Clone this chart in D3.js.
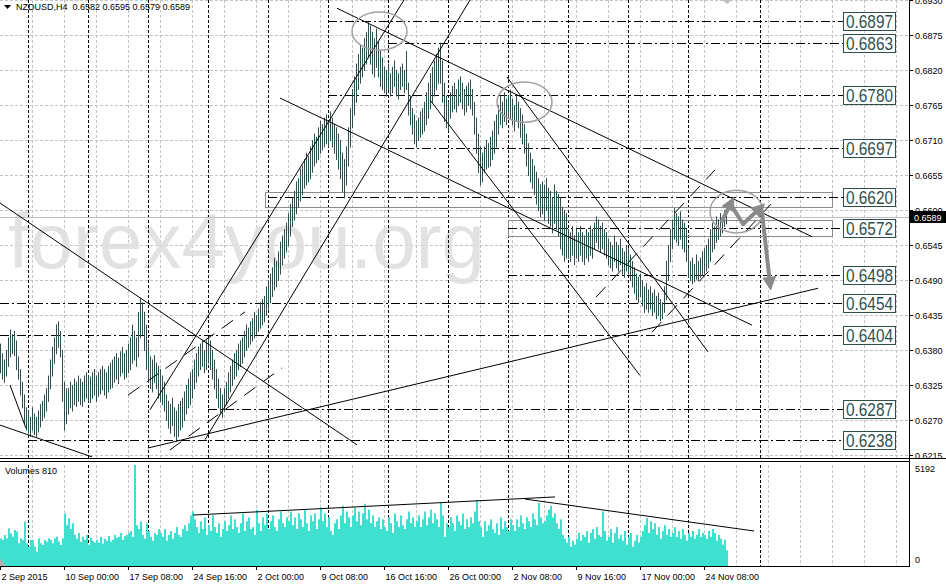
<!DOCTYPE html>
<html><head><meta charset="utf-8">
<script src="https://cdn.jsdelivr.net/npm/d3@7"></script>
<style>body{margin:0;background:#fff;overflow:hidden}svg{display:block;font-family:"Liberation Sans",Arial,sans-serif}</style>
</head><body><svg id="c" width="946" height="585"></svg>
<script>
// ---------- DATA ----------
const chartTitle = "NZDUSD,H4  0.6582 0.6595 0.6579 0.6589";
const volumeTitle = "Volumes 810";
const lastPrice = 0.6589;
const watermarkText = "forex4you.org";
// H4 bars: [high, low] in pips (x 1e-4)
const barRanges = [
[6390,6345],[6375,6335],[6365,6330],[6380,6340],[6400,6355],[6412,6370],[6405,6375],[6410,6372],[6395,6350],[6370,6335],[6350,6310],[6330,6290],[6310,6265],[6290,6255],[6285,6250],[6275,6245],
[6290,6255],[6280,6248],[6275,6245],[6285,6252],[6295,6260],[6300,6270],[6310,6275],[6320,6285],
[6340,6300],[6365,6320],[6385,6340],[6400,6360],[6420,6375],[6425,6385],[6410,6370],
[6380,6300],[6330,6255],[6320,6265],
[6320,6280],[6330,6290],[6325,6285],[6335,6295],[6330,6292],[6340,6300],[6335,6295],[6330,6292],[6340,6300],[6345,6305],[6340,6300],[6338,6298],
[6345,6305],[6350,6310],[6340,6300],[6345,6308],[6350,6312],[6355,6318],[6350,6310],[6345,6305],[6355,6315],[6360,6320],
[6365,6322],[6370,6330],[6375,6335],[6368,6328],[6378,6340],[6385,6345],[6375,6335],[6380,6338],[6390,6345],
[6400,6350],[6420,6360],[6410,6365],[6400,6355],[6440,6370],[6462,6400],[6455,6405],
[6440,6380],[6420,6350],[6390,6330],[6370,6320],
[6365,6315],[6372,6330],[6360,6320],[6355,6305],[6350,6300],[6340,6295],[6330,6285],
[6310,6270],[6300,6258],[6295,6250],[6305,6262],[6290,6245],[6285,6238],[6295,6245],[6300,6255],[6305,6260],
[6315,6270],[6325,6280],[6335,6290],[6345,6295],[6350,6305],
[6365,6320],[6375,6330],[6385,6340],[6390,6350],[6395,6355],[6380,6345],[6395,6350],[6400,6360],
[6395,6350],[6380,6335],[6365,6320],[6350,6305],[6335,6290],[6320,6280],[6310,6275],
[6320,6285],[6330,6295],[6345,6305],[6355,6315],[6365,6325],[6375,6335],[6380,6340],[6390,6350],[6395,6355],
[6400,6360],[6410,6370],[6420,6380],[6415,6385],[6425,6390],[6430,6395],[6440,6400],[6435,6405],[6445,6410],[6455,6415],[6460,6420],[6465,6425],
[6480,6435],[6490,6445],[6500,6455],[6510,6465],[6525,6475],[6520,6480],[6535,6490],[6550,6500],[6560,6515],[6570,6525],[6580,6535],[6595,6545],[6610,6560],
[6620,6575],[6630,6585],[6645,6595],[6650,6605],[6665,6615],[6670,6625],[6680,6635],[6690,6640],[6685,6645],[6700,6650],
[6710,6660],[6720,6670],[6715,6675],[6730,6680],[6740,6690],[6735,6695],[6745,6700],[6750,6705],[6740,6700],[6755,6710],[6745,6700],[6735,6690],[6730,6680],[6720,6665],[6710,6650],[6690,6630],[6680,6620],
[6700,6640],[6730,6670],[6760,6700],[6790,6730],[6810,6750],
[6830,6770],[6845,6790],[6860,6800],[6855,6810],[6870,6820],[6880,6830],
[6895,6840],[6890,6830],[6880,6815],[6870,6810],[6885,6825],
[6865,6810],[6850,6795],[6840,6790],
[6825,6785],[6820,6780],[6830,6790],[6815,6780],[6825,6785],[6835,6795],[6820,6780],[6815,6775],[6825,6790],[6830,6795],[6820,6785],[6850,6790],
[6800,6750],[6780,6735],[6760,6720],[6750,6705],[6740,6700],[6745,6710],[6755,6715],[6760,6720],[6770,6725],
[6785,6735],[6800,6745],[6815,6760],[6825,6770],[6835,6780],[6845,6790],[6855,6800],[6863,6800],
[6835,6770],[6800,6740],[6780,6730],[6770,6725],
[6785,6745],[6795,6755],[6800,6760],[6790,6755],[6805,6765],[6810,6770],[6800,6760],[6790,6750],[6795,6755],[6800,6765],[6805,6760],[6790,6750],
[6770,6720],[6745,6690],[6720,6660],[6700,6640],[6690,6645],
[6700,6660],[6710,6665],[6705,6668],[6715,6670],[6725,6680],[6740,6690],[6750,6700],
[6765,6720],[6780,6735],[6770,6730],[6785,6740],[6775,6735],[6780,6745],[6789,6745],[6775,6735],[6765,6725],[6780,6740],[6770,6730],[6760,6715],[6750,6705],
[6735,6690],[6720,6670],[6705,6655],[6690,6645],[6680,6635],[6670,6625],[6660,6610],[6650,6600],[6640,6590],
[6645,6595],[6640,6585],[6650,6600],[6635,6580],[6630,6575],[6620,6565],[6640,6580],[6630,6570],[6625,6560],[6620,6540],[6605,6530],[6600,6520],[6595,6525],
[6570,6525],[6565,6520],[6575,6530],[6560,6515],[6570,6525],[6565,6520],[6575,6530],[6565,6520],[6560,6515],[6570,6525],[6565,6520],[6575,6530],[6570,6525],
[6580,6540],[6590,6550],[6585,6540],[6575,6535],[6580,6540],[6570,6530],[6565,6525],
[6555,6515],[6550,6510],[6545,6505],[6560,6520],[6550,6510],[6545,6505],[6555,6515],[6540,6500],[6535,6495],[6545,6505],[6540,6500],[6530,6490],[6520,6480],
[6510,6470],[6500,6460],[6495,6455],[6500,6465],[6490,6450],[6480,6440],[6485,6445],[6475,6440],[6480,6445],[6470,6435],[6475,6440],[6465,6430],[6470,6435],[6460,6427],[6455,6430],
[6480,6440],[6520,6460],[6545,6490],
[6570,6520],[6585,6540],[6603,6555],[6595,6550],[6590,6545],[6598,6555],[6585,6540],[6580,6535],[6570,6520],
[6540,6495],[6520,6490],[6525,6485],[6515,6488],[6530,6492],[6520,6490],[6525,6495],[6535,6498],[6540,6500],[6545,6505],
[6555,6510],[6570,6520],[6580,6535],[6575,6540],[6590,6550],[6585,6555],[6595,6560],[6590,6565],[6600,6575],[6595,6579]
];
const volumes = [
1420,1340,1590,1420,1940,1680,1510,1850,1770,1170,1420,1340,2280,1170,990,1340,
1340,1000,740,1420,1170,1080,1340,1250,1420,1340,1170,1420,1510,1250,1080,1420,
2700,2100,2450,1900,2200,1600,1400,1700,1250,1500,1350,1600,1100,1450,1300,1200,
1350,1200,1500,1150,1400,1300,1550,1250,1350,1600,1450,1500,1700,1350,1550,1600,
1700,1800,1500,5192,2100,1900,2300,1600,1400,2200,1800,1500,1300,1700,1600,1900,
1700,1500,1900,1300,1600,1800,1400,1700,2000,1600,1500,1900,2100,1800,2200,2600,
2800,2400,2000,1700,2300,1900,2500,1600,2100,1800,2600,2000,1700,2200,1500,1900,
2300,1800,2100,2600,1900,2400,2000,1700,2200,2700,1800,2300,2500,1900,2000,1600,
2900,2200,1800,2500,2100,2700,1900,2300,2600,2000,1800,2400,2800,2200,2000,2500,
2300,2800,2100,2500,1900,2700,2400,2000,2900,2200,1800,2600,2300,2700,1900,2400,
3000,2300,2700,2000,2500,1800,1600,2200,2400,1900,2600,3100,2200,2800,2500,2000,
2600,3000,2300,2800,2100,2700,3200,2400,2900,2200,2600,2000,2300,2500,1900,2400,
2000,1800,2500,2200,1700,2700,2300,2000,2600,2100,1900,2400,2800,2200,2500,2000,
2300,2600,2000,2400,2800,2100,2500,2900,2200,2700,2400,2000,3240,2600,1500,2200,
2000,2500,2200,1800,2600,2300,2100,2700,1900,2400,2000,2500,2200,2800,3390,2300,
2000,1500,2300,1800,2100,2400,1900,1700,2200,1600,2500,1900,2300,2000,1800,2400,
2100,1800,2400,2000,2600,2200,1900,2500,2300,2000,2700,2400,2100,3240,2500,2200,
2300,2600,2900,3100,2500,2700,2200,1900,2400,1600,1400,1200,1500,1000,1300,1100,
1400,1700,1300,1600,1500,1800,1200,1700,1900,1400,2000,1600,1500,2800,1800,1300,
1500,1900,1200,1700,2000,1400,1600,1300,1800,1100,1500,1700,1000,1300,1600,1200,
1500,1800,2100,2470,1700,2300,1900,2200,1600,2000,1400,1800,2100,1600,1900,1500,
1700,2000,1500,1800,1400,1900,1600,1300,1700,1500,1800,1400,1600,1900,1500,1700,
1600,1400,1800,1500,1900,1700,1300,1600,1400,1100,1350,810
];
const priceTicks = [0.6930,0.6875,0.6820,0.6765,0.6710,0.6655,0.6600,0.6545,0.6490,0.6435,0.6380,0.6325,0.6270,0.6215];
const volumeTicks = [5192, 0];
const timeTickBars = [0,32,64,96,128,160,192,224,256,288,320,352];
const timeTickLabels = ["2 Sep 2015","10 Sep 00:00","17 Sep 08:00","24 Sep 16:00","2 Oct 00:00","9 Oct 08:00","16 Oct 16:00","26 Oct 00:00","2 Nov 08:00","9 Nov 16:00","17 Nov 00:00","24 Nov 08:00"];
const weekLineBars = [14,44,74,104,134,164,194,224,254,284,314,344,380];
const levelValues = [0.6897,0.6863,0.6780,0.6697,0.6620,0.6572,0.6498,0.6454,0.6404,0.6287,0.6238];
const levelStartBars = [164,194,164,194,134,254,254,0,0,104,14];
const levelEndBar = 421.5;
const zoneBoxes = [[132.5,0.6628,416,0.6605],[254,0.6584,416,0.6559]];
// [bar1, price1(pips), bar2, price2(pips)]
const trendLines = [
[74,6226,409,6477],[0,6611,178.5,6231],[0,6262,46,6212],[5,6325,13,6257],
[140,6776,376,6419],[168.5,6917,406,6558],[75,6286,202,6930],[102.5,6239,235,6930],
[215,6773,320,6340],[253.5,6809,354,6377]
];
const dashedTrendLines = [[64,6309,122.5,6440],[85,6223,141,6352],[298,6463,357.5,6663],[326,6408,386,6611]];
const volumeTrendLines = [[96.5,2620,277.5,3550],[262.5,3440,377,1800]];
const ellipses = [[176,0.6911,203.5,0.6851],[248.5,0.6801,276,0.6738],[355,0.6631,381.5,0.6564]];
const arrowSegments = [[361,0.6583,365.5,0.6611],[365.5,0.6608,371.5,0.6578],[371.5,0.6578,380,0.6603],[381,0.6597,385,0.6484]];
const arrowHeads = [true,false,true,true];

// ---------- DRAW ----------
const AX = 909, MAIN_B = 458, VOL_T = 463, VOL_B = 566;
const x = d3.scaleLinear().domain([0,454.5]).range([0,909]);
const y = d3.scaleLinear().domain([0.6215,0.6875]).range([455,35]);
const yv = d3.scaleLinear().domain([0,5192]).range([VOL_B,465]);
const svg = d3.select("#c");
const defs = svg.append("defs");
defs.append("clipPath").attr("id","mainClip").append("rect").attr("x",0).attr("y",0).attr("width",AX).attr("height",MAIN_B);
defs.append("clipPath").attr("id","volClip").append("rect").attr("x",0).attr("y",VOL_T).attr("width",AX).attr("height",VOL_B-VOL_T);
defs.append("marker").attr("id","ah").attr("markerUnits","userSpaceOnUse").attr("markerWidth",14).attr("markerHeight",14)
  .attr("refX",7).attr("refY",7).attr("orient","auto")
  .append("path").attr("d","M0,0 L14,7 L0,14 z").attr("fill","#8a8a8a");

const main = svg.append("g").attr("clip-path","url(#mainClip)");
const vol = svg.append("g").attr("clip-path","url(#volClip)");
const px = v => Math.round(v)+0.5;

// grid horizontal
main.selectAll(".hg").data(priceTicks).enter().append("line")
  .attr("x1",0).attr("x2",AX).attr("y1",d=>px(y(d))).attr("y2",d=>px(y(d)))
  .attr("stroke","#c4c4c4").attr("stroke-dasharray","3,2");
// grid vertical
const gridBars = d3.range(16,455,16);
[main,vol].forEach(g=>{
  g.selectAll(".vg").data(gridBars).enter().append("line")
   .attr("x1",d=>px(x(d))).attr("x2",d=>px(x(d))).attr("y1",0).attr("y2",VOL_B)
   .attr("stroke","#c4c4c4").attr("stroke-dasharray","3,2");
});
// watermark
main.append("text").attr("x",8).attr("y",268).attr("font-size",78).attr("fill","#dedede").attr("opacity",0.85).text(watermarkText);

// week separator lines
[main,vol].forEach(g=>{
  g.selectAll(".wl").data(weekLineBars).enter().append("line")
   .attr("x1",d=>px(x(d))).attr("x2",d=>px(x(d))).attr("y1",0).attr("y2",VOL_B)
   .attr("stroke","#000").attr("stroke-dasharray","3,2");
});

// price line
main.append("line").attr("x1",0).attr("x2",AX).attr("y1",px(y(lastPrice))).attr("y2",px(y(lastPrice))).attr("stroke","#c0c0c0");

// zones
main.selectAll(".zone").data(zoneBoxes).enter().append("rect")
  .attr("x",d=>px(x(d[0]))).attr("y",d=>px(y(d[1]))).attr("width",d=>Math.round(x(d[2])-x(d[0])))
  .attr("height",d=>Math.round(y(d[3])-y(d[1]))).attr("fill","none").attr("stroke","#8c8c8c");

// levels
levelValues.forEach((v,i)=>{
  const yy = px(y(v));
  main.append("line").attr("x1",x(levelStartBars[i])).attr("x2",x(levelEndBar)).attr("y1",yy).attr("y2",yy)
    .attr("stroke","#000").attr("stroke-dasharray","9,3,2,3");
});

// price bars
const barPath = barRanges.map((r,i)=>`M${x(i)+0.5},${y(r[0]/1e4).toFixed(1)}V${(y(r[1]/1e4)+1).toFixed(1)}`).join("");
main.append("path").attr("d",barPath).attr("stroke","#2f4f4f").attr("stroke-width",1).attr("fill","none");

// trend lines
main.selectAll(".tl").data(trendLines).enter().append("line")
  .attr("x1",d=>x(d[0])).attr("y1",d=>y(d[1]/1e4)).attr("x2",d=>x(d[2])).attr("y2",d=>y(d[3]/1e4))
  .attr("stroke","#000").attr("stroke-width",1);
main.selectAll(".dtl").data(dashedTrendLines).enter().append("line")
  .attr("x1",d=>x(d[0])).attr("y1",d=>y(d[1]/1e4)).attr("x2",d=>x(d[2])).attr("y2",d=>y(d[3]/1e4))
  .attr("stroke","#000").attr("stroke-width",1).attr("stroke-dasharray","14,9");

// ellipses
main.selectAll(".el").data(ellipses).enter().append("ellipse")
  .attr("cx",d=>(x(d[0])+x(d[2]))/2).attr("cy",d=>(y(d[1])+y(d[3]))/2)
  .attr("rx",d=>(x(d[2])-x(d[0]))/2).attr("ry",d=>(y(d[3])-y(d[1]))/2)
  .attr("fill","none").attr("stroke","#a0a0a0").attr("stroke-width",1.5);

// arrows
arrowSegments.forEach((d,i)=>{
  main.append("line").attr("x1",x(d[0])).attr("y1",y(d[1])).attr("x2",x(d[2])).attr("y2",y(d[3]))
    .attr("stroke","#8a8a8a").attr("stroke-width",4).attr("stroke-linecap","round")
    .attr("marker-end",arrowHeads[i]?"url(#ah)":null);
});

// level labels
levelValues.forEach((v,i)=>{
  const yy = y(v);
  svg.append("rect").attr("x",843.5).attr("y",Math.round(yy-9)+0.5).attr("width",52).attr("height",18)
    .attr("fill","#fff").attr("stroke","#2f4f4f");
  svg.append("text").attr("x",846).attr("y",yy+7).attr("font-size",19).attr("fill","#2f4f4f")
    .attr("textLength",47).attr("lengthAdjust","spacingAndGlyphs").text(v.toFixed(4));
});

// volumes
vol.selectAll(".vb").data(volumes).enter().append("rect")
  .attr("x",(d,i)=>x(i)).attr("width",2).attr("y",d=>yv(d)).attr("height",d=>VOL_B-yv(d)).attr("fill","#40e0d0");
vol.selectAll(".vtl").data(volumeTrendLines).enter().append("line")
  .attr("x1",d=>x(d[0])).attr("y1",d=>yv(d[1])).attr("x2",d=>x(d[2])).attr("y2",d=>yv(d[3]))
  .attr("stroke","#000").attr("stroke-width",1);
svg.append("text").attr("x",5).attr("y",474).attr("font-size",9).attr("fill","#000").text(volumeTitle);
svg.append("path").attr("d","M0,566 L0,558 L6,566 z").attr("fill","#b0b0b0");

// frame
svg.append("line").attr("x1",AX+0.5).attr("x2",AX+0.5).attr("y1",0).attr("y2",VOL_B+1).attr("stroke","#000");
svg.append("line").attr("x1",0).attr("x2",946).attr("y1",MAIN_B+0.5).attr("y2",MAIN_B+0.5).attr("stroke","#000");
svg.append("line").attr("x1",0).attr("x2",AX).attr("y1",MAIN_B+3.5).attr("y2",MAIN_B+3.5).attr("stroke","#000");
svg.append("line").attr("x1",0).attr("x2",AX+1).attr("y1",VOL_B+0.5).attr("y2",VOL_B+0.5).attr("stroke","#000");

// price axis
priceTicks.forEach(p=>{
  const yy = px(y(p));
  svg.append("line").attr("x1",AX).attr("x2",AX+4).attr("y1",yy).attr("y2",yy).attr("stroke","#000");
  svg.append("text").attr("x",915).attr("y",yy+3.5).attr("font-size",9).attr("fill","#000").text(p.toFixed(4));
});
// current price tag
svg.append("rect").attr("x",AX+1).attr("y",Math.round(y(lastPrice))-6).attr("width",37).attr("height",12).attr("fill","#000");
svg.append("text").attr("x",914).attr("y",y(lastPrice)+3.5).attr("font-size",9).attr("fill","#fff").text(lastPrice.toFixed(4));
// volume axis
svg.append("text").attr("x",915).attr("y",472).attr("font-size",9).attr("fill","#000").text(String(volumeTicks[0]));
svg.append("text").attr("x",915).attr("y",563).attr("font-size",9).attr("fill","#000").text(String(volumeTicks[1]));

// time axis
timeTickBars.forEach((b,i)=>{
  const xx = px(x(b));
  svg.append("line").attr("x1",xx).attr("x2",xx).attr("y1",VOL_B).attr("y2",VOL_B+4).attr("stroke","#000");
  svg.append("text").attr("x",xx+1).attr("y",580).attr("font-size",9).attr("fill","#000").text(timeTickLabels[i]);
});

// title
svg.append("path").attr("d","M4,5 L11,5 L7.5,9 z").attr("fill","#000");
svg.append("text").attr("x",16).attr("y",10).attr("font-size",9).attr("fill","#000").attr("xml:space","preserve").style("white-space","pre").text(chartTitle);
// chart shift marker
svg.append("path").attr("d","M722,0 L732,0 L727,4 z").attr("fill","#c0c0c0");
</script></body></html>
